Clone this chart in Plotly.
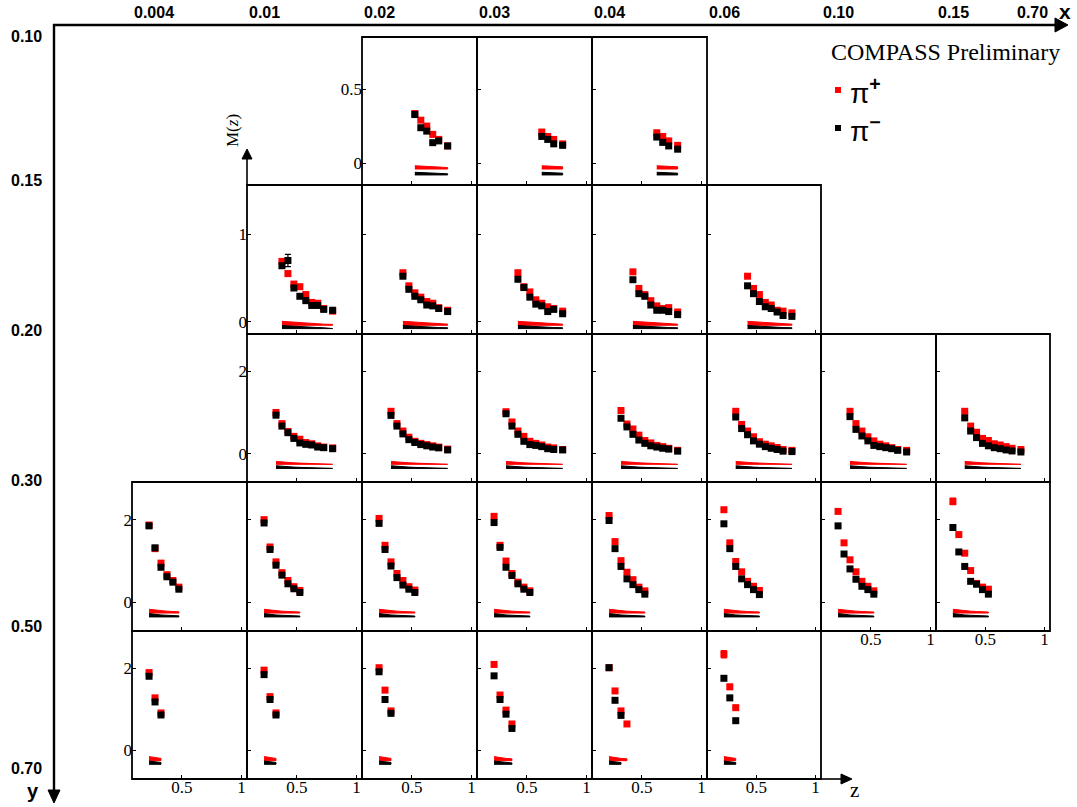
import plotly.graph_objects as go

W, H = 1077, 807

# ---------------- labels ----------------
X_BIN_LABELS = ["0.004", "0.01", "0.02", "0.03", "0.04", "0.06", "0.10", "0.15", "0.70"]
Y_BIN_LABELS = ["0.10", "0.15", "0.20", "0.30", "0.50", "0.70"]

# ---------------- z bin centres per y-row ----------------
Z_R1 = [0.525, 0.575, 0.625, 0.675, 0.725, 0.80]
Z_R2 = [0.375, 0.425, 0.475, 0.525, 0.575, 0.625, 0.675, 0.725, 0.80]
Z_R3 = [0.325, 0.375, 0.425, 0.475, 0.525, 0.575, 0.625, 0.675, 0.725, 0.80]
Z_R4 = [0.225, 0.275, 0.325, 0.375, 0.425, 0.475, 0.525]
Z_R5 = [0.225, 0.275, 0.325, 0.375]

# ---------------- occupied x-columns per y-row ----------------
COLS_R1 = [2, 3, 4]
COLS_R2 = [1, 2, 3, 4, 5]
COLS_R3 = [1, 2, 3, 4, 5, 6, 7]
COLS_R4 = [0, 1, 2, 3, 4, 5, 6, 7]
COLS_R5 = [0, 1, 2, 3, 4, 5]

# ---------------- multiplicities pi+ / pi- ----------------
POS_R1 = [[0.335, 0.29, 0.25, 0.194, 0.16, 0.116],
          [0.21, 0.18, 0.16, 0.13],
          [0.205, 0.18, 0.15, 0.12]]
NEG_R1 = [[0.328, 0.239, 0.216, 0.138, 0.15, 0.116],
          [0.18, 0.16, 0.13, 0.12],
          [0.176, 0.14, 0.116, 0.094]]

POS_R2 = [[0.69, 0.55, 0.43, 0.40, 0.31, 0.22, 0.21, 0.15, 0.12],
          [0.56, 0.41, 0.33, 0.28, 0.23, 0.21, 0.16, 0.13],
          [0.56, 0.40, 0.34, 0.25, 0.21, 0.17, 0.15, 0.12],
          [0.57, 0.38, 0.31, 0.24, 0.18, 0.15, 0.16, 0.11],
          [0.52, 0.38, 0.31, 0.22, 0.19, 0.13, 0.12, 0.10]]
NEG_R2 = [[0.64, 0.70, 0.385, 0.29, 0.24, 0.185, 0.185, 0.14, 0.13],
          [0.52, 0.37, 0.29, 0.25, 0.19, 0.18, 0.15, 0.115],
          [0.485, 0.39, 0.28, 0.20, 0.18, 0.115, 0.14, 0.09],
          [0.48, 0.32, 0.29, 0.19, 0.13, 0.13, 0.115, 0.08],
          [0.41, 0.32, 0.23, 0.17, 0.15, 0.11, 0.07, 0.06]]

POS_R3 = [[1.00, 0.73, 0.54, 0.42, 0.35, 0.27, 0.24, 0.19, 0.16, 0.14],
          [1.03, 0.73, 0.55, 0.40, 0.30, 0.25, 0.22, 0.19, 0.16, 0.11],
          [1.02, 0.77, 0.55, 0.42, 0.30, 0.25, 0.21, 0.16, 0.14, 0.10],
          [1.05, 0.72, 0.60, 0.45, 0.32, 0.26, 0.20, 0.17, 0.13, 0.08],
          [1.03, 0.71, 0.55, 0.41, 0.29, 0.23, 0.19, 0.15, 0.10, 0.08],
          [1.03, 0.73, 0.55, 0.41, 0.31, 0.23, 0.19, 0.145, 0.10, 0.08],
          [1.03, 0.67, 0.52, 0.37, 0.32, 0.24, 0.21, 0.17, 0.13, 0.10]]
NEG_R3 = [[0.935, 0.67, 0.51, 0.37, 0.26, 0.226, 0.21, 0.16, 0.145, 0.12],
          [0.93, 0.67, 0.48, 0.34, 0.27, 0.22, 0.19, 0.16, 0.14, 0.09],
          [0.97, 0.67, 0.47, 0.30, 0.22, 0.20, 0.17, 0.12, 0.10, 0.09],
          [0.86, 0.65, 0.47, 0.33, 0.25, 0.19, 0.16, 0.13, 0.11, 0.06],
          [0.89, 0.61, 0.46, 0.31, 0.23, 0.17, 0.13, 0.10, 0.06, 0.05],
          [0.90, 0.59, 0.43, 0.31, 0.20, 0.17, 0.145, 0.12, 0.08, 0.04],
          [0.87, 0.55, 0.39, 0.25, 0.19, 0.145, 0.12, 0.09, 0.065, 0.04]]

POS_R4 = [[1.87, 1.30, 0.95, 0.67, 0.53, 0.37],
          [2.00, 1.34, 0.98, 0.72, 0.53, 0.38, 0.29],
          [2.03, 1.38, 0.98, 0.70, 0.53, 0.38, 0.30],
          [2.08, 1.38, 1.00, 0.70, 0.49, 0.37, 0.28],
          [2.10, 1.47, 1.01, 0.73, 0.55, 0.37, 0.28],
          [2.24, 1.44, 0.99, 0.74, 0.51, 0.39, 0.29],
          [2.20, 1.44, 1.03, 0.74, 0.51, 0.39, 0.28],
          [2.44, 1.64, 1.19, 0.77, 0.46, 0.37, 0.32]]
NEG_R4 = [[1.85, 1.32, 0.85, 0.62, 0.49, 0.32],
          [1.92, 1.28, 0.90, 0.66, 0.45, 0.33, 0.24],
          [1.91, 1.28, 0.88, 0.60, 0.42, 0.32, 0.24],
          [1.93, 1.33, 0.85, 0.65, 0.45, 0.32, 0.24],
          [1.98, 1.30, 0.87, 0.57, 0.43, 0.31, 0.20],
          [1.90, 1.30, 0.87, 0.57, 0.43, 0.31, 0.19],
          [1.85, 1.17, 0.81, 0.56, 0.39, 0.31, 0.20],
          [1.81, 1.22, 0.87, 0.51, 0.44, 0.31, 0.20]]

POS_R5 = [[1.90, 1.28, 0.91],
          [1.96, 1.31, 0.91],
          [2.02, 1.47, 0.96],
          [2.10, 1.35, 0.98, 0.64],
          [2.02, 1.45, 0.96, 0.64],
          [2.35, 1.55, 1.04]]
NEG_R5 = [[1.81, 1.18, 0.86],
          [1.85, 1.24, 0.86],
          [1.92, 1.24, 0.90],
          [1.82, 1.24, 0.88, 0.53],
          [2.02, 1.22, 0.85],
          [1.76, 1.28, 0.72]]

# ---------------- visible statistical errors (row, col, point) ----------------
ERR_POS = {(1, 1, 1): 0.03, (3, 6, 0): 0.05, (3, 7, 0): 0.08, (4, 5, 0): 0.09, (4, 5, 1): 0.06}
ERR_NEG = {(1, 1, 1): 0.07, (3, 7, 0): 0.06, (4, 5, 0): 0.05}

# ---------------- systematic bands ----------------
SYS_POS_R1 = [0.022, 0.02, 0.017, 0.015, 0.012, 0.01]
SYS_NEG_R1 = [0.018, 0.016, 0.014, 0.012, 0.01, 0.008]
SYS_POS_R2 = [0.045, 0.04, 0.033, 0.028, 0.023, 0.019, 0.016, 0.013, 0.01]
SYS_NEG_R2 = [0.035, 0.03, 0.026, 0.022, 0.018, 0.015, 0.012, 0.01, 0.008]
SYS_POS_R3 = [0.07, 0.055, 0.045, 0.037, 0.03, 0.025, 0.021, 0.018, 0.015, 0.012]
SYS_NEG_R3 = [0.065, 0.05, 0.04, 0.032, 0.026, 0.022, 0.018, 0.015, 0.012, 0.01]
SYS_POS_R4 = [0.09, 0.07, 0.055, 0.045, 0.037, 0.03, 0.025]
SYS_NEG_R4 = [0.08, 0.06, 0.048, 0.04, 0.032, 0.026, 0.022]
SYS_POS_R5 = [0.10, 0.075, 0.055, 0.045]
SYS_NEG_R5 = [0.08, 0.06, 0.045, 0.035]
BAND_BASE_POS = [-0.04, -0.042, -0.26, -0.256, -0.26]
BAND_BASE_NEG = [-0.08, -0.08, -0.36, -0.35, -0.35]

# ---------------- axis setup per row ----------------
Y_RANGES = [[-0.148, 0.852], [-0.142, 1.565], [-0.69, 2.91], [-0.69, 2.91], [-0.71, 2.92]]
Y_TICKS = [[0, 0.5], [0, 1], [0, 2], [0, 2], [0, 2]]
Y_TICKTEXT = [["0", "0.5"], ["0", "1"], ["0", "2"], ["0", "2"], ["0", "2"]]
Z_RANGE = [0.082, 1.046]
Z_TICKS = [0.5, 1]
Z_TICKTEXT = ["0.5", "1"]

ROWS = [
    (Z_R1, COLS_R1, POS_R1, NEG_R1, SYS_POS_R1, SYS_NEG_R1, "end"),
    (Z_R2, COLS_R2, POS_R2, NEG_R2, SYS_POS_R2, SYS_NEG_R2, "end"),
    (Z_R3, COLS_R3, POS_R3, NEG_R3, SYS_POS_R3, SYS_NEG_R3, "end"),
    (Z_R4, COLS_R4, POS_R4, NEG_R4, SYS_POS_R4, SYS_NEG_R4, "start"),
    (Z_R5, COLS_R5, POS_R5, NEG_R5, SYS_POS_R5, SYS_NEG_R5, "start"),
]

# pixel geometry
COL_EDGES = [132, 247, 362, 477, 592, 707, 821, 936, 1050]
ROW_EDGES = [37, 185, 334, 482, 631, 779]


def px(xp):
    return xp / W


def py(yp):
    return 1 - yp / H


RED = "#ff0000"
BLACK = "#000000"
SERIF = "Liberation Serif"
SANS = "Liberation Sans"

fig = go.Figure()
layout = {}
shapes = []
annotations = []


def zslice(z, n, align):
    return z[:n] if align == "start" else z[len(z) - n:]


def band_xy(zz, base, sys):
    n = len(zz)
    s = sys[:n]
    xs = list(zz) + list(zz[::-1])
    ys = [base + v for v in s] + [base] * n
    return xs, ys


k = 0
for r, (Z, COLS, POS, NEG, SP, SN, align) in enumerate(ROWS):
    occupied_below = set(ROWS[r + 1][1]) if r + 1 < len(ROWS) else set()
    for j, c in enumerate(COLS):
        k += 1
        xa = "x" if k == 1 else f"x{k}"
        ya = "y" if k == 1 else f"y{k}"
        pos = POS[j]
        neg = NEG[j]
        zp = zslice(Z, len(pos), align)
        zn = zslice(Z, len(neg), align)

        # systematic bands
        bx, by = band_xy(zp, BAND_BASE_POS[r], SP)
        fig.add_trace(go.Scatter(x=bx, y=by, xaxis=xa, yaxis=ya, mode="lines", fill="toself",
                                 fillcolor=RED, line=dict(color=RED, width=1), hoverinfo="skip",
                                 showlegend=False))
        bx, by = band_xy(zn, BAND_BASE_NEG[r], SN)
        fig.add_trace(go.Scatter(x=bx, y=by, xaxis=xa, yaxis=ya, mode="lines", fill="toself",
                                 fillcolor=BLACK, line=dict(color=BLACK, width=1), hoverinfo="skip",
                                 showlegend=False))

        ep = [ERR_POS.get((r, c, i), 0) for i in range(len(pos))]
        en = [ERR_NEG.get((r, c, i), 0) for i in range(len(neg))]
        fig.add_trace(go.Scatter(x=zp, y=pos, xaxis=xa, yaxis=ya, mode="markers",
                                 marker=dict(symbol="square", size=7, color=RED, line=dict(width=0)),
                                 error_y=dict(type="data", array=ep, visible=True, color=RED,
                                              thickness=1.2, width=3),
                                 showlegend=False))
        fig.add_trace(go.Scatter(x=zn, y=neg, xaxis=xa, yaxis=ya, mode="markers",
                                 marker=dict(symbol="square", size=7, color=BLACK, line=dict(width=0)),
                                 error_y=dict(type="data", array=en, visible=True, color=BLACK,
                                              thickness=1.2, width=3),
                                 showlegend=False))

        x0, x1 = COL_EDGES[c], COL_EDGES[c + 1]
        y0, y1 = ROW_EDGES[r], ROW_EDGES[r + 1]
        show_x = c not in occupied_below
        show_y = (j == 0)
        common = dict(showline=False, ticks="inside", ticklen=4, tickwidth=1.2, tickcolor="black",
                      showgrid=False, zeroline=False,
                      tickfont=dict(family=SERIF, size=17, color="black"))
        layout["xaxis" if k == 1 else f"xaxis{k}"] = dict(
            domain=[px(x0), px(x1)], range=Z_RANGE, anchor=ya,
            tickmode="array", tickvals=Z_TICKS, ticktext=Z_TICKTEXT,
            showticklabels=show_x, ticklabelstandoff=-4, **common)
        layout["yaxis" if k == 1 else f"yaxis{k}"] = dict(
            domain=[py(y1), py(y0)], range=Y_RANGES[r], anchor=xa,
            tickmode="array", tickvals=Y_TICKS[r], ticktext=Y_TICKTEXT[r],
            showticklabels=show_y, ticklabelstandoff=-1, **common)
        # panel frame
        shapes.append(dict(type="rect", xref="paper", yref="paper", x0=px(x0), x1=px(x1),
                           y0=py(y1), y1=py(y0), line=dict(color="black", width=1.8),
                           fillcolor="rgba(0,0,0,0)", layer="above"))

fig.update_layout(**layout)

# ---------------- outer bin axes, arrows, texts ----------------
LW = 2.4
# top x axis
shapes.append(dict(type="line", xref="paper", yref="paper", x0=px(53), x1=px(1058),
                   y0=py(25), y1=py(25), line=dict(color="black", width=LW)))
shapes.append(dict(type="path", xref="paper", yref="paper",
                   path=f"M {px(1055)},{py(18)} L {px(1068)},{py(25)} L {px(1055)},{py(32)} Z",
                   fillcolor="black", line=dict(color="black", width=1)))
# left y axis
shapes.append(dict(type="line", xref="paper", yref="paper", x0=px(54), x1=px(54),
                   y0=py(24), y1=py(792), line=dict(color="black", width=LW)))
shapes.append(dict(type="path", xref="paper", yref="paper",
                   path=f"M {px(48)},{py(790)} L {px(54)},{py(803)} L {px(60)},{py(790)} Z",
                   fillcolor="black", line=dict(color="black", width=1)))
# M(z) arrow
xm = COL_EDGES[1]
shapes.append(dict(type="line", xref="paper", yref="paper", x0=px(xm), x1=px(xm),
                   y0=py(ROW_EDGES[1]), y1=py(158), line=dict(color="black", width=1.6)))
shapes.append(dict(type="path", xref="paper", yref="paper",
                   path=f"M {px(xm - 5)},{py(159)} L {px(xm)},{py(149)} L {px(xm + 5)},{py(159)} Z",
                   fillcolor="black", line=dict(color="black", width=1)))
# z arrow
yz = ROW_EDGES[5]
shapes.append(dict(type="line", xref="paper", yref="paper", x0=px(COL_EDGES[6]), x1=px(843),
                   y0=py(yz), y1=py(yz), line=dict(color="black", width=1.6)))
shapes.append(dict(type="path", xref="paper", yref="paper",
                   path=f"M {px(841)},{py(yz - 5)} L {px(852)},{py(yz)} L {px(841)},{py(yz + 5)} Z",
                   fillcolor="black", line=dict(color="black", width=1)))

for i, lab in enumerate(X_BIN_LABELS):
    last = (i == len(X_BIN_LABELS) - 1)
    annotations.append(dict(text=f"<b>{lab}</b>", xref="paper", yref="paper",
                            x=px(COL_EDGES[i]), y=py(13), xanchor="right" if last else "left",
                            yanchor="middle", showarrow=False,
                            font=dict(family=SANS, size=16, color="black")))
Y_LABEL_PY = [37, 181, 330, 480, 626, 768]
for i, lab in enumerate(Y_BIN_LABELS):
    annotations.append(dict(text=f"<b>{lab}</b>", xref="paper", yref="paper",
                            x=px(26), y=py(Y_LABEL_PY[i]), xanchor="center", yanchor="middle",
                            showarrow=False, font=dict(family=SANS, size=16, color="black")))
annotations.append(dict(text="<b>x</b>", xref="paper", yref="paper", x=px(1065), y=py(11),
                        xanchor="center", yanchor="middle", showarrow=False,
                        font=dict(family=SANS, size=21, color="black")))
annotations.append(dict(text="<b>y</b>", xref="paper", yref="paper", x=px(33), y=py(791),
                        xanchor="center", yanchor="middle", showarrow=False,
                        font=dict(family=SANS, size=20, color="black")))
annotations.append(dict(text="M(<i>z</i>)", xref="paper", yref="paper", x=px(232), y=py(131),
                        xanchor="center", yanchor="middle", textangle=-90, showarrow=False,
                        font=dict(family=SERIF, size=17, color="black")))
annotations.append(dict(text="z", xref="paper", yref="paper", x=px(854), y=py(790),
                        xanchor="center", yanchor="middle", showarrow=False,
                        font=dict(family=SERIF, size=21, color="black")))

# legend
annotations.append(dict(text="COMPASS Preliminary", xref="paper", yref="paper", x=px(829), y=py(52),
                        xanchor="left", yanchor="middle", showarrow=False,
                        font=dict(family=SERIF, size=24, color="black")))
shapes.append(dict(type="rect", xref="paper", yref="paper", x0=px(835), x1=px(841),
                   y0=py(87), y1=py(93), fillcolor=RED, line=dict(width=0)))
shapes.append(dict(type="rect", xref="paper", yref="paper", x0=px(835), x1=px(841),
                   y0=py(125), y1=py(131), fillcolor=BLACK, line=dict(width=0)))
annotations.append(dict(text="π<sup><b>+</b></sup>", xref="paper", yref="paper", x=px(848), y=py(91),
                        xanchor="left", yanchor="middle", showarrow=False,
                        font=dict(family=SANS, size=28, color="black")))
annotations.append(dict(text="π<sup><b>−</b></sup>", xref="paper", yref="paper", x=px(848), y=py(129),
                        xanchor="left", yanchor="middle", showarrow=False,
                        font=dict(family=SANS, size=28, color="black")))

fig.update_layout(width=W, height=H, margin=dict(l=0, r=0, t=0, b=0),
                  paper_bgcolor="white", plot_bgcolor="white", showlegend=False,
                  shapes=shapes, annotations=annotations)

fig.write_html("out.html", config={"displayModeBar": False},
               post_script="document.body.style.margin='0';document.body.style.padding='0';")
